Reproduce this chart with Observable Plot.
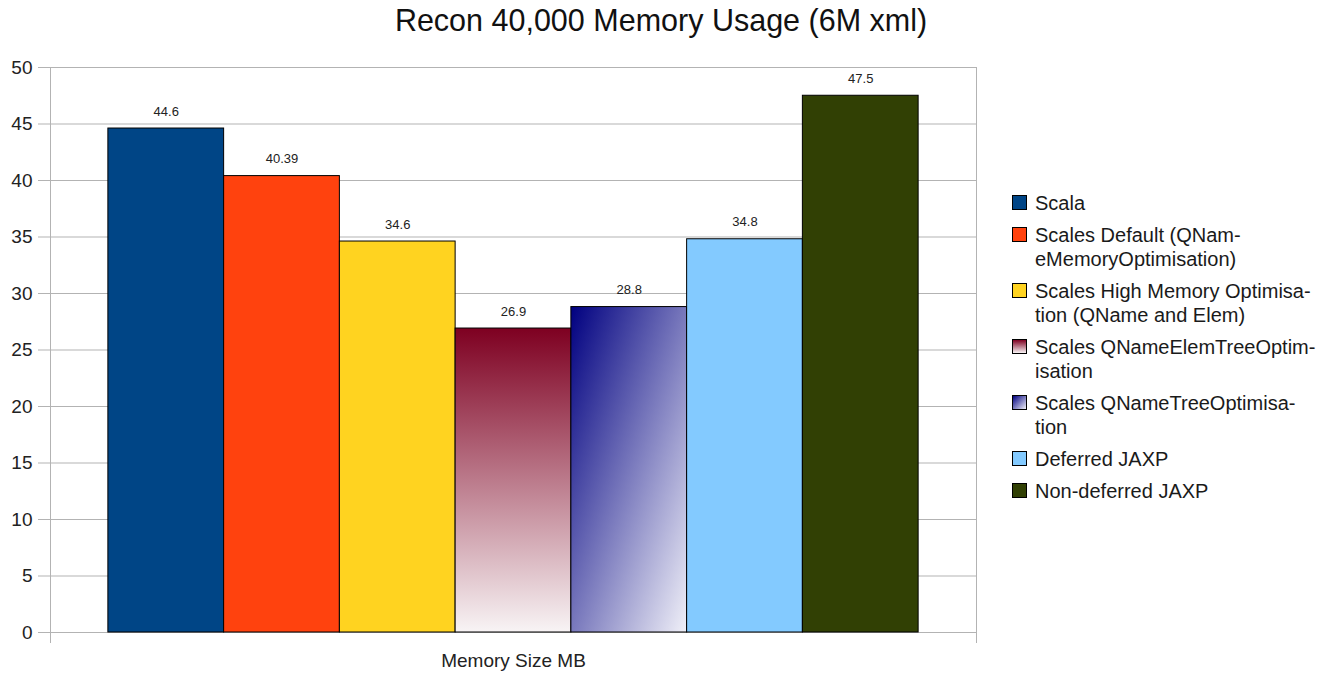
<!DOCTYPE html>
<html>
<head>
<meta charset="utf-8">
<script src="https://cdn.jsdelivr.net/npm/d3@7"></script>
<script src="https://cdn.jsdelivr.net/npm/@observablehq/plot@0.6"></script>
<style>
  html, body { margin: 0; padding: 0; background: #fff; }
  #chart { position: relative; width: 1322px; height: 675px; font-family: "Liberation Sans", Arial, sans-serif; }
  #chart svg { position: absolute; left: 0; top: 0; }
  #title { position: absolute; left: 0; top: 3px; width: 1322px; text-align: center; font-size: 30.5px; color: #111; }
  #legend { position: absolute; left: 1012px; top: 191px; font-size: 20px; line-height: 24px; color: #1a1a1a; }
  .entry { display: flex; align-items: flex-start; margin-bottom: 8px; }
  .swatch { box-sizing: border-box; width: 15px; height: 15px; margin-top: 4px; margin-right: 8px; border: 1px solid #000; flex: none; }
</style>
</head>
<body>
<div id="chart">
  <div id="title">Recon 40,000 Memory Usage (6M xml)</div>
  <div id="legend"></div>
</div>
<script>
// Series shown as one bar each
const series = [
  "Scala",
  "Scales Default (QNameMemoryOptimisation)",
  "Scales High Memory Optimisation (QName and Elem)",
  "Scales QNameElemTreeOptimisation",
  "Scales QNameTreeOptimisation",
  "Deferred JAXP",
  "Non-deferred JAXP"
];

// Legend text, hyphenated the way the legend box wraps it
const legendLines = [
  ["Scala"],
  ["Scales Default (QNam-", "eMemoryOptimisation)"],
  ["Scales High Memory Optimisa-", "tion (QName and Elem)"],
  ["Scales QNameElemTreeOptim-", "isation"],
  ["Scales QNameTreeOptimisa-", "tion"],
  ["Deferred JAXP"],
  ["Non-deferred JAXP"]
];

// Memory used, in MB
const memoryMB = [44.6, 40.39, 34.6, 26.9, 28.8, 34.8, 47.5];
const valueLabels = ["44.6", "40.39", "34.6", "26.9", "28.8", "34.8", "47.5"];

const yTicks = [0, 5, 10, 15, 20, 25, 30, 35, 40, 45, 50];

// Solid fills, plus two gradient fills defined in the SVG below
const barFills = ["#004586", "#ff420e", "#ffd320", "url(#gradMaroon)", "url(#gradNavy)", "#83caff", "#314004"];
const swatchFills = [
  "#004586", "#ff420e", "#ffd320",
  "linear-gradient(to bottom, #7e0021, #f8f4f5)",
  "linear-gradient(135deg, #000080, #f0f0f8)",
  "#83caff", "#314004"
];

const data = series.map((name, i) => ({
  name, i, value: memoryMB[i], label: valueLabels[i], fill: barFills[i]
}));

const gridColor = "#b3b3b3";

const chart = Plot.plot({
  width: 1322,
  height: 675,
  marginLeft: 50,
  marginRight: 346,
  marginTop: 67,
  marginBottom: 43,
  style: { fontFamily: "Liberation Sans, Arial, sans-serif", background: "transparent" },
  x: { domain: [-1, series.length], axis: null },
  y: { domain: [0, 50], axis: null },
  color: { type: "identity" },
  marks: [
    Plot.gridY(yTicks, { stroke: gridColor, strokeOpacity: 1 }),
    Plot.ruleX([-1, series.length], { stroke: gridColor, insetBottom: -11 }),
    Plot.axisY(yTicks, {
      tickSize: 12, tickPadding: 6, stroke: gridColor, fill: "#222",
      fontSize: 19, label: null, tickFormat: d => String(d)
    }),
    Plot.rectY(data, {
      x1: d => d.i - 0.5, x2: d => d.i + 0.5, y: "value",
      fill: "fill", stroke: "#000", strokeWidth: 1
    }),
    Plot.text(data, { x: "i", y: "value", text: "label", dy: -17, fontSize: 13, fill: "#222" }),
    Plot.text(["Memory Size MB"], { frameAnchor: "bottom", dy: 34, fontSize: 19, fill: "#222" })
  ]
});

// Gradient definitions referenced by the two gradient bars
const defs = d3.select(chart).insert("defs", ":first-child");
const gm = defs.append("linearGradient").attr("id", "gradMaroon")
  .attr("x1", 0).attr("y1", 0).attr("x2", 0).attr("y2", 1);
gm.append("stop").attr("offset", 0).attr("stop-color", "#7e0021");
gm.append("stop").attr("offset", 1).attr("stop-color", "#f8f4f5");
const gn = defs.append("linearGradient").attr("id", "gradNavy")
  .attr("x1", 0).attr("y1", 0).attr("x2", 1).attr("y2", 1);
gn.append("stop").attr("offset", 0).attr("stop-color", "#000080");
gn.append("stop").attr("offset", 1).attr("stop-color", "#f0f0f8");

document.getElementById("chart").appendChild(chart);

// Legend
const legend = d3.select("#legend");
series.forEach((name, i) => {
  const entry = legend.append("div").attr("class", "entry");
  entry.append("div").attr("class", "swatch").style("background", swatchFills[i]);
  entry.append("div").html(legendLines[i].join("<br>"));
});
</script>
</body>
</html>
